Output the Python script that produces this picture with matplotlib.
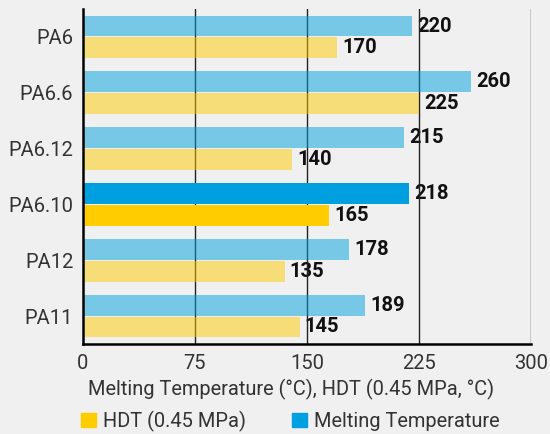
import numpy as np
import matplotlib.pyplot as plt
from matplotlib.patches import Patch

## DATA
grades = ["PA6", "PA6.6", "PA6.12", "PA6.10", "PA12", "PA11"]
melting = [220, 260, 215, 218, 178, 189]
hdt = [170, 225, 140, 165, 135, 145]
highlight = "PA6.10"
ticks = [0, 75, 150, 225, 300]

blue = "#009fdf"
yellow = "#ffcc00"
bg = "#f0f0f0"

plt.rcParams["font.family"] = ["Roboto", "DejaVu Sans"]

## GRAPH
fig = plt.figure(figsize=(5.5, 4.34), dpi=100, facecolor=bg)
ax = fig.add_axes([83/550, 1-344/434, 448/550, 335/434])
ax.set_facecolor(bg)

y = np.arange(len(grades))
h = 0.375
off = 0.195
for i, g in enumerate(grades):
    a = 1.0 if g == highlight else 0.5   # only the highlighted grade at full colour
    ax.barh(y[i] - off, melting[i], height=h, color=blue, alpha=a, zorder=2)
    ax.barh(y[i] + off, hdt[i], height=h, color=yellow, alpha=a, zorder=2)
    ax.text(melting[i] + 3.5, y[i] - off, str(melting[i]), va="center", ha="left",
            fontsize=14.5, fontweight="bold", color="#111111", zorder=0.3)
    ax.text(hdt[i] + 3.5, y[i] + off, str(hdt[i]), va="center", ha="left",
            fontsize=14.5, fontweight="bold", color="#111111", zorder=0.3)

ax.set_xlim(0, 300)
ax.set_ylim(len(grades) - 0.5, -0.5)
ax.set_xticks(ticks)
ax.set_yticks(y)
ax.set_yticklabels(grades)
ax.tick_params(length=0, labelsize=14.5, labelcolor="#333333", pad=7)
for t in ticks[1:]:
    ax.axvline(t, color="#222222", lw=1, zorder=0.5)

for s in ["top", "right"]:
    ax.spines[s].set_visible(False)
ax.spines["left"].set_linewidth(1.8)
ax.spines["bottom"].set_linewidth(1.8)
ax.spines["left"].set_zorder(3)
ax.spines["bottom"].set_zorder(3)

fig.text(291/550, 1-389/434, "Melting Temperature (°C), HDT (0.45 MPa, °C)",
         ha="center", va="center", fontsize=14.4, color="#333333")

handles = [Patch(color=yellow), Patch(color=blue)]
fig.legend(handles, ["HDT (0.45 MPa)", "Melting Temperature"], ncol=2,
           loc="center", bbox_to_anchor=(290/550, 1-421/434), frameon=False,
           fontsize=14.4, labelcolor="#333333", handlelength=0.75, handleheight=0.75,
           handletextpad=0.35, columnspacing=2.3, borderpad=0)

plt.savefig("out.png", dpi=100, facecolor=bg)
